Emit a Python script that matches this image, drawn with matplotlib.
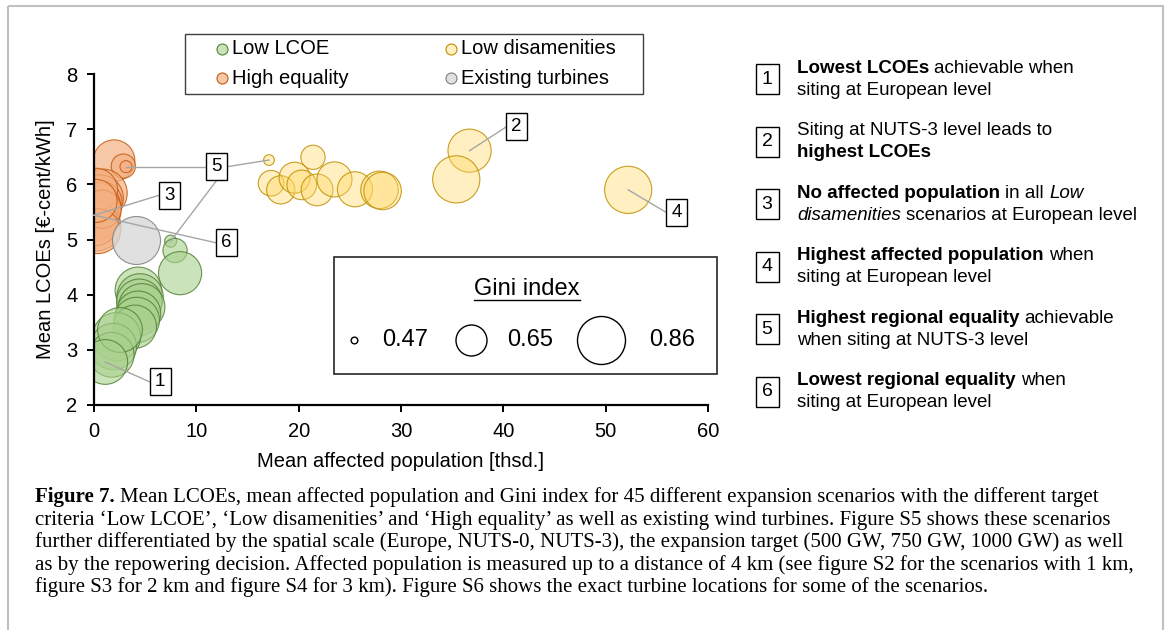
import numpy as np
import matplotlib
matplotlib.use('Agg')
import matplotlib.pyplot as plt
from matplotlib.patches import Rectangle

plt.rcParams['font.family'] = ['Liberation Sans', 'DejaVu Sans']

DPI = 100

# Low LCOE scenarios: mean affected population [thsd.], mean LCOE [ct/kWh], Gini index
lcoe_pop = [7.49, 7.92, 8.41, 4.33, 4.5, 4.43, 4.66, 4.33, 4.17, 4.0, 2.2, 1.89, 1.73, 2.54, 1.1]
lcoe_cost = [4.97, 4.80, 4.39, 4.08, 3.96, 3.87, 3.78, 3.66, 3.54, 3.42, 3.24, 3.06, 2.91, 3.36, 2.78]
lcoe_gini = [0.51, 0.60, 0.80, 0.84, 0.84, 0.83, 0.84, 0.82, 0.83, 0.80, 0.86, 0.84, 0.82, 0.82, 0.82]

# Low disamenities scenarios
dis_pop = [0.0, 0.0, 17.1, 21.4, 17.3, 18.25, 19.6, 20.3, 21.8, 23.5, 25.5, 27.9, 28.2, 36.7, 35.4, 52.2]
dis_cost = [5.44, 5.50, 6.44, 6.49, 6.02, 5.90, 6.12, 5.99, 5.90, 6.09, 5.91, 5.90, 5.88, 6.61, 6.09, 5.90]
dis_gini = [0.86, 0.84, 0.50, 0.60, 0.61, 0.63, 0.65, 0.64, 0.66, 0.70, 0.70, 0.73, 0.73, 0.80, 0.85, 0.85]

# High equality scenarios
eq_pop = [1.96, 2.87, 3.13, 0.9, 0.6, 0.7, 0.4, 0.5, 0.2, 0.3, 0.1, 0.2, 0.8, 0.4, 0.15]
eq_cost = [6.43, 6.33, 6.32, 5.84, 5.75, 5.68, 5.62, 5.50, 5.40, 5.23, 5.30, 5.90, 5.55, 5.15, 5.70]
eq_gini = [0.78, 0.60, 0.51, 0.86, 0.84, 0.78, 0.82, 0.80, 0.84, 0.86, 0.83, 0.80, 0.74, 0.82, 0.80]

# Existing turbines
ex_pop = [4.07]
ex_cost = [5.0]
ex_gini = [0.86]

gini_legend = [0.47, 0.65, 0.86]
diam_px = [6.7, 31, 48]   # bubble diameter (px) for the legend gini values

legend_names = ['Low LCOE', 'Low disamenities', 'High equality', 'Existing turbines']

notes = [
    [[('Lowest LCOEs', 'bold', 'normal'), ('achievable when', 'normal', 'normal')],
     [('siting at European level', 'normal', 'normal')]],
    [[('Siting at NUTS-3 level leads to', 'normal', 'normal')],
     [('highest LCOEs', 'bold', 'normal')]],
    [[('No affected population', 'bold', 'normal'), ('in all', 'normal', 'normal'), ('Low', 'normal', 'italic')],
     [('disamenities', 'normal', 'italic'), ('scenarios at European level', 'normal', 'normal')]],
    [[('Highest affected population', 'bold', 'normal'), ('when', 'normal', 'normal')],
     [('siting at European level', 'normal', 'normal')]],
    [[('Highest regional equality', 'bold', 'normal'), ('achievable', 'normal', 'normal')],
     [('when siting at NUTS-3 level', 'normal', 'normal')]],
    [[('Lowest regional equality', 'bold', 'normal'), ('when', 'normal', 'normal')],
     [('siting at European level', 'normal', 'normal')]],
]

caption_lines = [
    'Mean LCOEs, mean affected population and Gini index for 45 different expansion scenarios with the different target',
    'criteria \u2018Low LCOE\u2019, \u2018Low disamenities\u2019 and \u2018High equality\u2019 as well as existing wind turbines. Figure S5 shows these scenarios',
    'further differentiated by the spatial scale (Europe, NUTS-0, NUTS-3), the expansion target (500 GW, 750 GW, 1000 GW) as well',
    'as by the repowering decision. Affected population is measured up to a distance of 4 km (see figure S2 for the scenarios with 1 km,',
    'figure S3 for 2 km and figure S4 for 3 km). Figure S6 shows the exact turbine locations for some of the scenarios.',
]

styles = {
    'Low LCOE': dict(fc='#a9d18e', alpha=0.6, ec='#548235'),
    'Low disamenities': dict(fc='#ffd966', alpha=0.4, ec='#bf9000'),
    'High equality': dict(fc='#f4b183', alpha=0.7, ec='#c55a11'),
    'Existing turbines': dict(fc='#d9d9d9', alpha=0.8, ec='#7f7f7f'),
}


def bubble_size(g):
    d = np.interp(g, gini_legend, diam_px)
    return (np.asarray(d) * 72 / DPI) ** 2


def draw_series(ax, x, y, g, name):
    st = styles[name]
    fc = matplotlib.colors.to_rgba(st['fc'], st['alpha'])
    ec = matplotlib.colors.to_rgba(st['ec'], 0.85)
    ax.scatter(x, y, s=bubble_size(g), facecolors=fc, edgecolors=ec, linewidths=0.8, zorder=2)


fig = plt.figure(figsize=(11.71, 6.30), dpi=DPI)
ax = fig.add_axes([94 / 1171, 1 - 405 / 630, 614 / 1171, 331 / 630])

draw_series(ax, lcoe_pop, lcoe_cost, lcoe_gini, 'Low LCOE')
draw_series(ax, dis_pop, dis_cost, dis_gini, 'Low disamenities')
draw_series(ax, eq_pop, eq_cost, eq_gini, 'High equality')
draw_series(ax, ex_pop, ex_cost, ex_gini, 'Existing turbines')

ax.set_xlim(0, 60)
ax.set_ylim(2, 8)
ax.set_xticks(range(0, 61, 10))
ax.set_yticks(range(2, 9))
for side in ['top', 'right']:
    ax.spines[side].set_visible(False)
for side in ['left', 'bottom']:
    ax.spines[side].set_linewidth(1.6)
ax.tick_params(labelsize=14.5, width=1.4, length=5, direction='out', pad=7)
ax.set_xlabel('Mean affected population [thsd.]', fontsize=14.5, labelpad=8)
ax.set_ylabel('Mean LCOEs [\u20ac-cent/kWh]', fontsize=14.5, labelpad=8)

# numbered callouts inside the chart
bb = ax.get_window_extent()
ux = 60 / bb.width    # data units per pixel
uy = 6 / bb.height
hw, hh = 10.5 * ux, 13.5 * uy

callouts = [
    ('1', 6.45, 2.42, [(lcoe_pop[14], lcoe_cost[14], 'left')]),
    ('2', 41.3, 7.04, [(dis_pop[13], dis_cost[13], 'left')]),
    ('3', 7.36, 5.80, [(dis_pop[0], dis_cost[0], 'left')]),
    ('4', 56.95, 5.49, [(dis_pop[15], dis_cost[15], 'left')]),
    ('5', 12.0, 6.32, [(eq_pop[2], eq_cost[2], 'left'), (dis_pop[2], dis_cost[2], 'right'),
                       (lcoe_pop[0], lcoe_cost[0], 'bottom')]),
    ('6', 12.97, 4.94, [(dis_pop[0], dis_cost[0], 'left')]),
]
for lab, cx, cy, targets in callouts:
    for tx, ty, side in targets:
        if side == 'left':
            px, py = cx - hw, cy
        elif side == 'right':
            px, py = cx + hw, cy
        else:
            px, py = cx, cy - hh
        ax.plot([tx, px], [ty, py], color='#a6a6a6', lw=1, zorder=4, clip_on=False)
    ax.add_patch(Rectangle((cx - hw, cy - hh), 2 * hw, 2 * hh, fc='white', ec='black',
                           lw=1, zorder=5, clip_on=False))
    ax.text(cx, cy, lab, fontsize=13.5, ha='center', va='center', zorder=6)

# overlay in pixel coordinates for legends, notes and caption
ov = fig.add_axes([0, 0, 1, 1], zorder=10)
ov.set_xlim(0, 1171)
ov.set_ylim(630, 0)
ov.axis('off')
r = fig.canvas.get_renderer()

ov.add_patch(Rectangle((8, 6), 1155, 640, fc='none', ec='#c0c0c0', lw=1.5))

# series legend
ov.add_patch(Rectangle((185, 34), 458, 60, fc='white', ec='#404040', lw=1))
leg_pos = [(222, 49), (451, 49), (222, 78), (451, 78)]
for name, (lx, ly) in zip(legend_names, leg_pos):
    st = styles[name]
    ov.scatter([lx], [ly], s=(11 * 0.72) ** 2, facecolors=[matplotlib.colors.to_rgba(st['fc'], st['alpha'])],
               edgecolors=[st['ec']], linewidths=0.8)
    ov.text(lx + 10, ly, name, fontsize=14.5, va='center', ha='left')

# Gini legend
ov.add_patch(Rectangle((334, 257), 383, 117, fc='white', ec='#262626', lw=1.2))
gt = ov.text(527, 289, 'Gini index', fontsize=17, ha='center', va='center')
ext = gt.get_window_extent(r)
ov.plot([ext.x0, ext.x1], [300, 300], color='black', lw=1)
for g, cx, tx in zip(gini_legend, [354, 471, 600.7], [381.7, 506.7, 649.3]):
    ov.scatter([cx], [340], s=bubble_size(g), facecolors='white', edgecolors='black', linewidths=1)
    ov.text(tx, 340, '%.2f' % g, fontsize=17, va='center', ha='left')

# notes on the right
def rich(x, y, parts, size, family, space):
    for s, w, st in parts:
        t = ov.text(x, y, s, fontsize=size, family=family, fontweight=w, fontstyle=st,
                    va='center', ha='left')
        x += t.get_window_extent(r).width + space * size * DPI / 72
    return x


for i, lines in enumerate(notes):
    cy = 79.3 + i * 62.5
    ov.add_patch(Rectangle((755.5, cy - 15), 23, 30, fc='white', ec='black', lw=1))
    ov.text(767, cy, str(i + 1), fontsize=14, ha='center', va='center')
    rich(797, cy - 11, lines[0], 13.5, ['Liberation Sans', 'DejaVu Sans'], 0.278)
    rich(797, cy + 11, lines[1], 13.5, ['Liberation Sans', 'DejaVu Sans'], 0.278)

# caption
serif = ['Liberation Serif', 'DejaVu Serif']
probe = ov.text(0, 0, caption_lines[3], fontsize=10, family=serif)
cap_size = 10 * 1098 / probe.get_window_extent(r).width
probe.remove()
cap_y = [497, 520, 542, 565, 587]
x0 = rich(35, cap_y[0], [('Figure 7.', 'bold', 'normal')], cap_size, serif, 0.25)
ov.text(x0, cap_y[0], caption_lines[0], fontsize=cap_size, family=serif, va='center', ha='left')
for line, y in zip(caption_lines[1:], cap_y[1:]):
    ov.text(35, y, line, fontsize=cap_size, family=serif, va='center', ha='left')

plt.savefig('out.png', dpi=DPI)
